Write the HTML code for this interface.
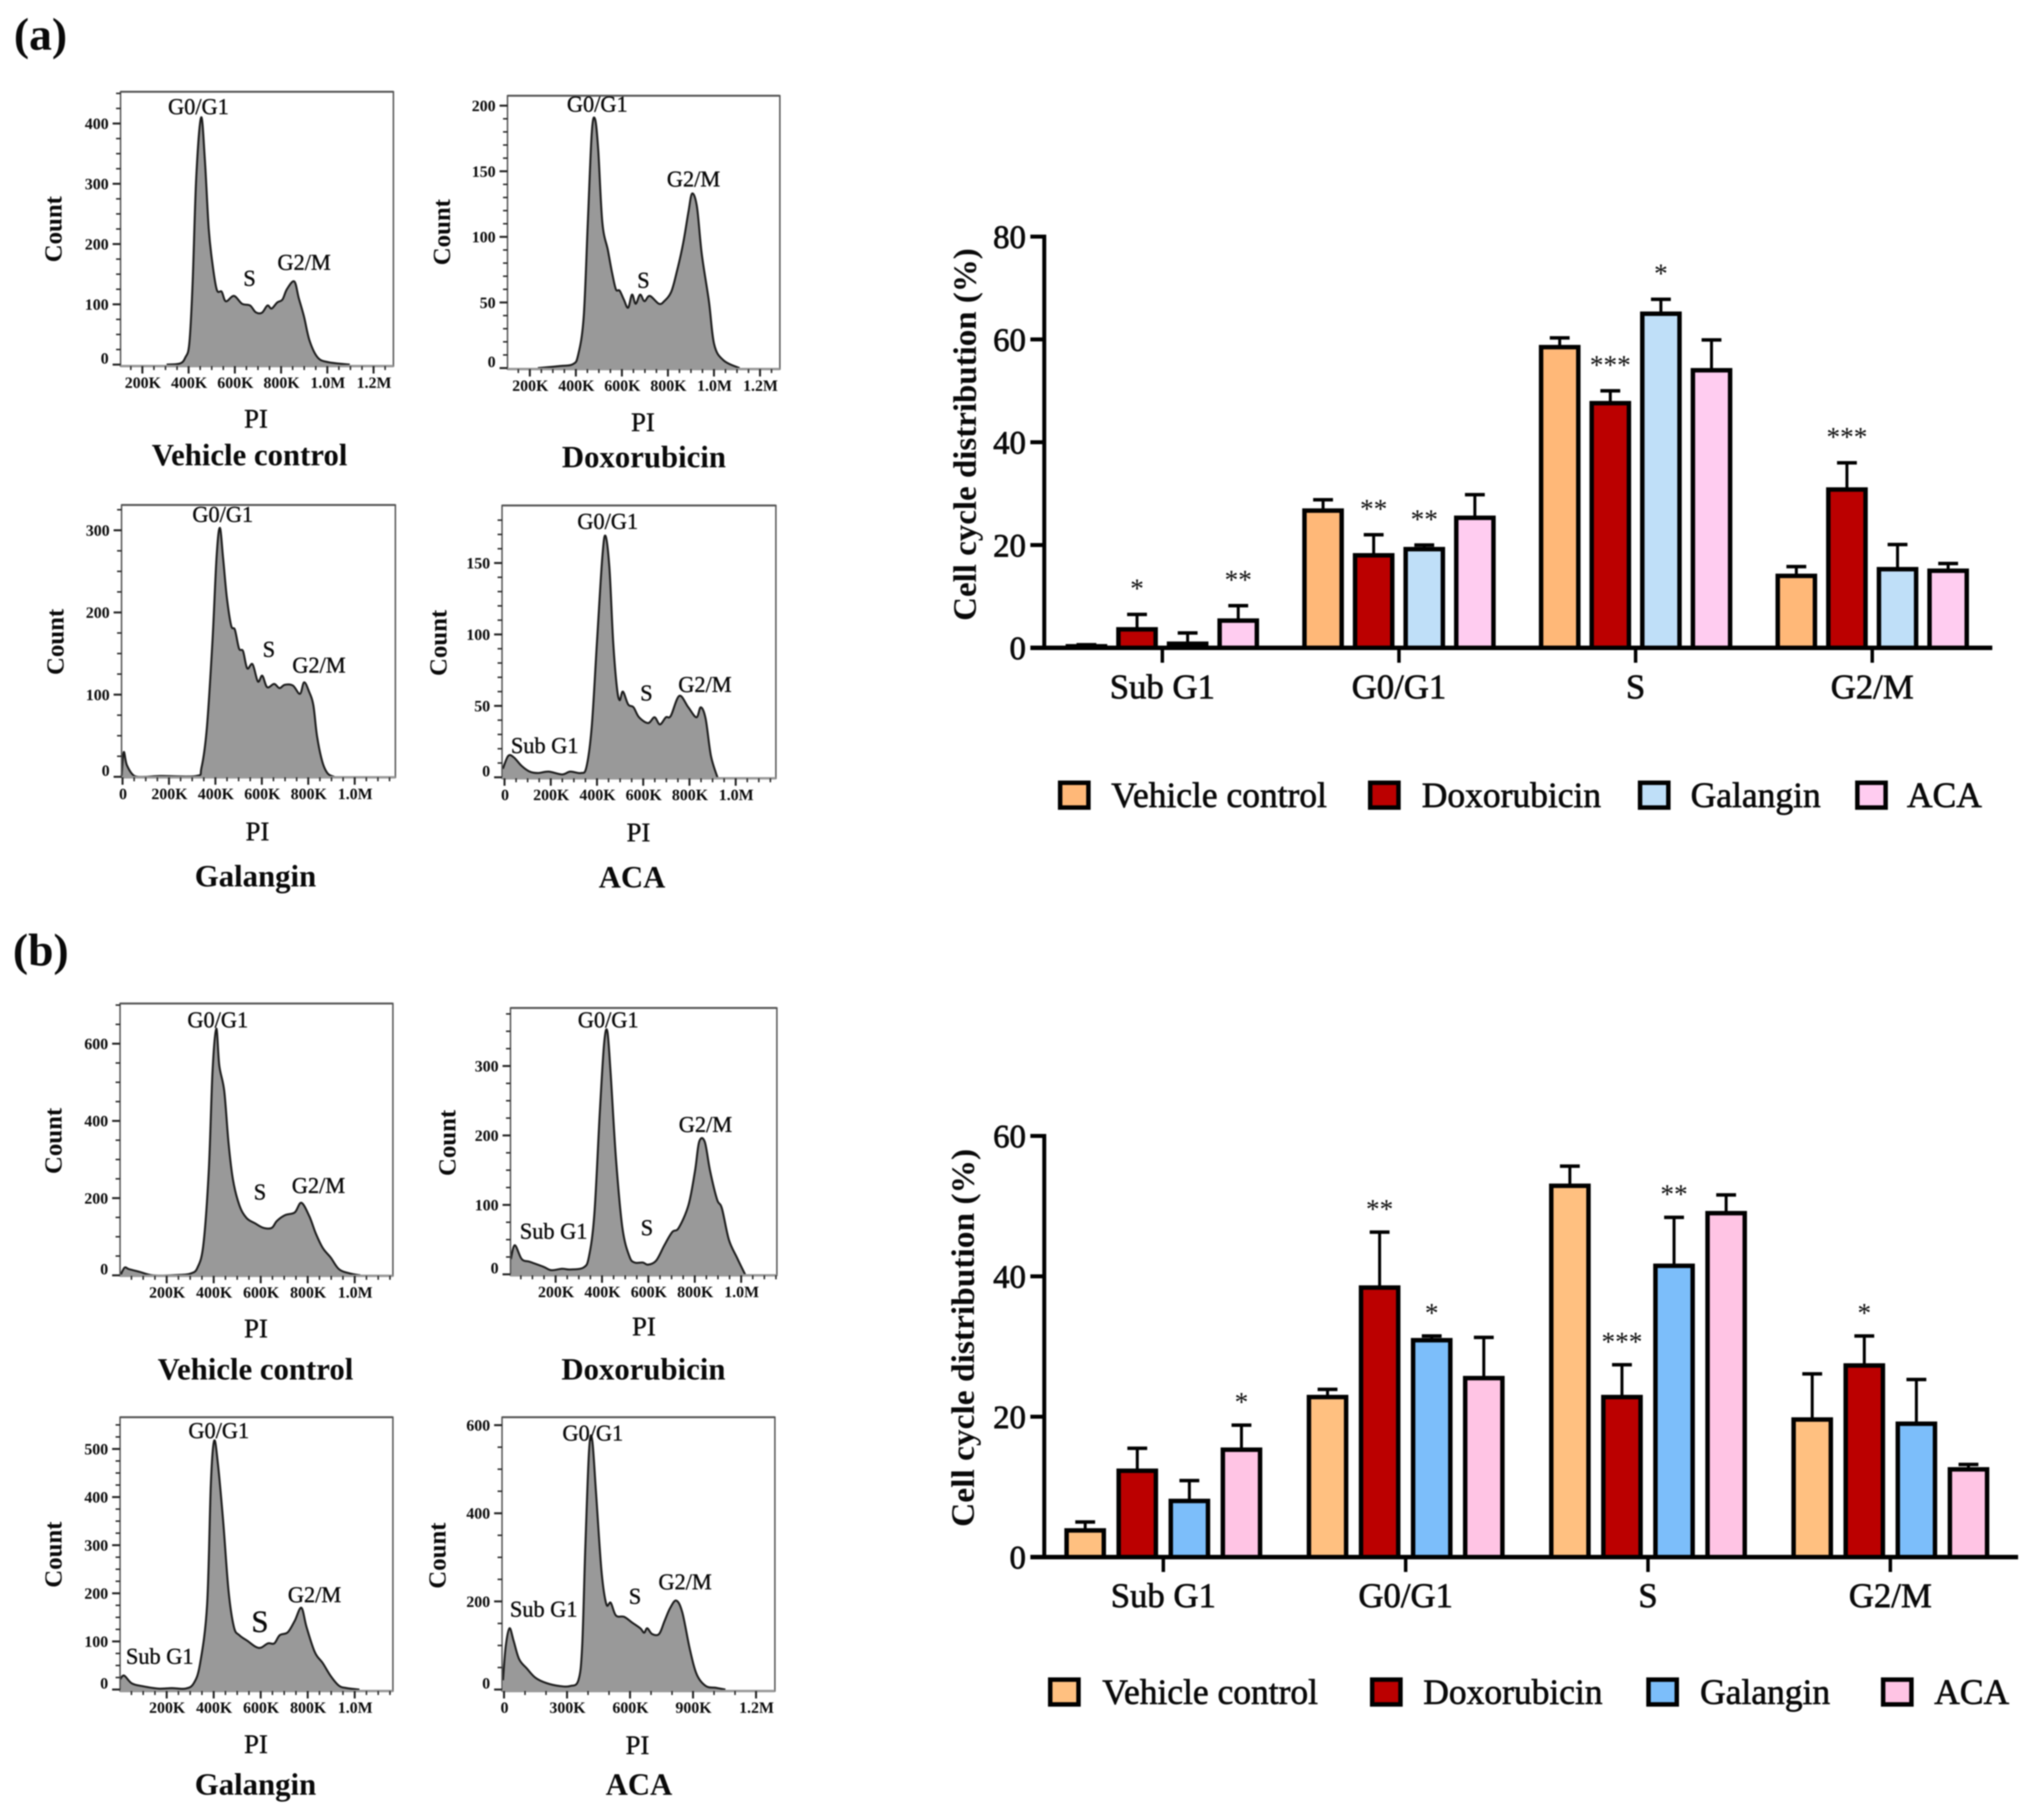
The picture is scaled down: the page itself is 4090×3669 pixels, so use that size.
<!DOCTYPE html>
<html lang="en">
<head>
<meta charset="utf-8">
<title>Cell cycle distribution figure</title>
<style>
html,body{margin:0;padding:0;background:#fff;}
svg{display:block;filter:blur(1.2px);}
text{font-family:"Liberation Serif","DejaVu Serif",serif;fill:#0a0a0a;text-anchor:middle;}
.ann{font-size:45px;stroke:#0a0a0a;stroke-width:.7px;}
.pi{font-size:54px;stroke:#0a0a0a;stroke-width:.7px;}
.title{font-size:62px;font-weight:bold;}
.count{font-size:50px;font-weight:bold;}
.panel{font-size:92px;font-weight:bold;text-anchor:start;}
.ytitle{font-size:66px;font-weight:bold;}
.cat{font-size:70px;stroke:#0a0a0a;stroke-width:1.3px;}
.leg{font-size:71.5px;text-anchor:start;stroke:#0a0a0a;stroke-width:1.3px;}
.swatch{stroke:#000;stroke-width:9;}
</style>
</head>
<body>
<svg id="figure" xmlns="http://www.w3.org/2000/svg" width="4090" height="3669" viewBox="0 0 4090 3669">
<rect x="0" y="0" width="4090" height="3669" fill="#fff"/>
<g id="marks"></g>

<text class="panel" x="28" y="100">(a)</text>
<text class="panel" x="26" y="1946">(b)</text>

<!-- a: vehicle control -->
<text class="ann" x="400" y="230">G0/G1</text>
<text class="ann" x="503" y="576">S</text>
<text class="ann" x="613" y="544">G2/M</text>
<text class="pi" x="516" y="862">PI</text>
<text class="title" x="503" y="938">Vehicle control</text>
<text class="count" transform="translate(124 462) rotate(-90)">Count</text>
<!-- a: doxorubicin -->
<text class="ann" x="1204" y="225">G0/G1</text>
<text class="ann" x="1297" y="580">S</text>
<text class="ann" x="1398" y="376">G2/M</text>
<text class="pi" x="1296" y="869">PI</text>
<text class="title" x="1298" y="942">Doxorubicin</text>
<text class="count" transform="translate(907 468) rotate(-90)">Count</text>
<!-- a: galangin -->
<text class="ann" x="449" y="1052">G0/G1</text>
<text class="ann" x="542" y="1324">S</text>
<text class="ann" x="643" y="1356">G2/M</text>
<text class="pi" x="519" y="1694">PI</text>
<text class="title" x="515" y="1787">Galangin</text>
<text class="count" transform="translate(128 1294) rotate(-90)">Count</text>
<!-- a: ACA -->
<text class="ann" x="1225" y="1066">G0/G1</text>
<text class="ann" x="1303" y="1412">S</text>
<text class="ann" x="1421" y="1395">G2/M</text>
<text class="ann" x="1098" y="1518">Sub G1</text>
<text class="pi" x="1287" y="1696">PI</text>
<text class="title" x="1274" y="1789">ACA</text>
<text class="count" transform="translate(900 1296) rotate(-90)">Count</text>

<!-- b: vehicle control -->
<text class="ann" x="439" y="2071">G0/G1</text>
<text class="ann" x="524" y="2418">S</text>
<text class="ann" x="642" y="2405">G2/M</text>
<text class="pi" x="516" y="2696">PI</text>
<text class="title" x="515" y="2781">Vehicle control</text>
<text class="count" transform="translate(124 2300) rotate(-90)">Count</text>
<!-- b: doxorubicin -->
<text class="ann" x="1226" y="2071">G0/G1</text>
<text class="ann" x="1304" y="2490">S</text>
<text class="ann" x="1422" y="2282">G2/M</text>
<text class="ann" x="1116" y="2497">Sub G1</text>
<text class="pi" x="1298" y="2692">PI</text>
<text class="title" x="1297" y="2781">Doxorubicin</text>
<text class="count" transform="translate(918 2304) rotate(-90)">Count</text>
<!-- b: galangin -->
<text class="ann" x="441" y="2899">G0/G1</text>
<text class="ann" style="font-size:62px" x="524" y="3290">S</text>
<text class="ann" x="634" y="3230">G2/M</text>
<text class="ann" x="322" y="3354">Sub G1</text>
<text class="pi" x="516" y="3534">PI</text>
<text class="title" x="515" y="3618">Galangin</text>
<text class="count" transform="translate(124 3134) rotate(-90)">Count</text>
<!-- b: ACA -->
<text class="ann" x="1195" y="2904">G0/G1</text>
<text class="ann" x="1280" y="3233">S</text>
<text class="ann" x="1381" y="3204">G2/M</text>
<text class="ann" x="1096" y="3259">Sub G1</text>
<text class="pi" x="1285" y="3536">PI</text>
<text class="title" x="1288" y="3618">ACA</text>
<text class="count" transform="translate(898 3136) rotate(-90)">Count</text>

<!-- bar chart titles -->
<text class="ytitle" textLength="751" lengthAdjust="spacingAndGlyphs" transform="translate(1967 876) rotate(-90)">Cell cycle distribution (%)</text>
<text class="ytitle" textLength="762" lengthAdjust="spacingAndGlyphs" transform="translate(1963 2697) rotate(-90)">Cell cycle distribution (%)</text>

<!-- legend a -->
<g>
<rect class="swatch" x="2137" y="1578" width="57" height="50" fill="#FFB878"/>
<text class="leg" x="2240" y="1627">Vehicle control</text>
<rect class="swatch" x="2762" y="1578" width="57" height="50" fill="#BB0000"/>
<text class="leg" x="2866" y="1627">Doxorubicin</text>
<rect class="swatch" x="3306" y="1578" width="57" height="50" fill="#BFDFF8"/>
<text class="leg" x="3408" y="1627">Galangin</text>
<rect class="swatch" x="3744" y="1578" width="57" height="50" fill="#FFCCF0"/>
<text class="leg" x="3844" y="1627">ACA</text>
</g>
<!-- legend b -->
<g>
<rect class="swatch" x="2117" y="3386" width="57" height="50" fill="#FFC080"/>
<text class="leg" x="2222" y="3435">Vehicle control</text>
<rect class="swatch" x="2766" y="3386" width="57" height="50" fill="#BB0000"/>
<text class="leg" x="2869" y="3435">Doxorubicin</text>
<rect class="swatch" x="3323" y="3386" width="57" height="50" fill="#7CBEFA"/>
<text class="leg" x="3427" y="3435">Galangin</text>
<rect class="swatch" x="3796" y="3386" width="57" height="50" fill="#FFC4E4"/>
<text class="leg" x="3899" y="3435">ACA</text>
</g>
</svg>

<script>
// ---------- histogram data (PI in thousands, count) ----------
const aVehiclePI=[305,363,386,403,417,433,454,470,487,503,522,543,561,596,631,666,690,717,741,759,783,806,825,857,876,899,923,958,1004,1097];
const aVehicleCount=[0,2,12,35,132,311,410,342,226,168,124,121,105,114,101,98,87,86,98,93,103,108,125,138,111,80,40,12,4,0];
const aDoxPI=[235,328,387,410,434,452,469,483,497,515,539,557,574,590,609,627,644,660,679,698,721,761,784,814,838,866,889,905,926,947,978,1001,1041,1111];
const aDoxCount=[0,1.5,3,10,39,111,179,190,167,111,90,73,60,59,52,46,56,49,56,51,55,49,51,58,73,95,119,133,123,87,51,18,6,0];
const aGalanginPI=[-5,5,19,51,97,167,317,340,363,387,405,419,433,449,468,484,502,519,537,560,583,602,623,653,676,699,734,764,782,803,822,838,861,884,912];
const aGalanginCount=[0,30,14,1,0,1,1,11,59,163,267,303,267,219,184,179,156,153,132,137,116,123,109,113,108,112,111,101,115,104,87,49,18,4,0];
const aAcaPI=[-7,16,40,74,109,144,191,249,284,330,354,377,400,423,437,454,470,486,498,512,535,558,582,621,649,672,698,719,756,795,830,849,870,893,921];
const aAcaCount=[6,15,14,8,4,3,4,2,4,3,7,35,95,154,169,146,95,63,54,60,51,49,42,38,42,37,42,43,57,49,42,49,41,15,0];
const bVehiclePI=[3,21,40,85,143,246,303,331,356,379,395,411,424,445,463,482,509,539,578,612,647,669,704,745,773,807,834,864,898,933,979,1024];
const bVehicleCount=[0,20,16,9,0,1,5,20,79,270,528,639,543,477,344,248,182,149,134,123,123,141,156,163,188,153,109,71,46,16,5,0];
const bDoxPI=[7,24,54,89,147,181,228,263,321,344,367,390,409,423,437,460,488,518,541,576,599,634,669,703,731,773,801,819,843,866,896,917,947,982,1017];
const bDoxCount=[22,42,22,18,11,6,8,7,10,26,87,230,332,350,291,168,67,26,17,17,14,20,42,61,67,100,149,191,191,149,108,95,50,24,0];
const bGalanginPI=[3,19,51,97,166,223,280,315,342,372,388,402,418,440,463,486,509,544,578,601,631,658,681,715,745,773,795,830,864,898,933,967,1020];
const bGalanginCount=[22,29,13,7,2,3,2,13,54,177,429,517,469,352,206,130,113,101,89,87,96,96,113,119,143,170,130,78,55,28,8,3,0];
const bAcaPI=[-5,8,26,46,72,110,149,200,264,315,354,372,387,405,420,438,464,487,508,533,572,610,649,667,682,705,738,764,790,820,849,885,918,961,1008,1054];
const bAcaCount=[21,98,139,110,69,47,27,15,8,8,21,98,321,544,566,448,270,194,197,168,165,152,139,129,139,126,126,155,184,202,175,91,34,8,4,0];

// ---------- histogram axis labels ----------
const piTicks=[200,400,600,800,1000,1200];
const piTicksZero=[0,200,400,600,800,1000];
const piTicksNoZero=[200,400,600,800,1000];
const piTicksAca=[0,300,600,900,1200];
const aVehicleCountTicks=[0,100,200,300,400];
const aDoxCountTicks=[0,50,100,150,200];
const aGalanginCountTicks=[0,100,200,300];
const aAcaCountTicks=[0,50,100,150];
const bVehicleCountTicks=[0,200,400,600];
const bDoxCountTicks=[0,100,200,300];
const bGalanginCountTicks=[0,100,200,300,400,500];
const bAcaCountTicks=[0,200,400,600];

// ---------- bar chart data ----------
const categories=['Sub G1','G0/G1','S','G2/M'];
const seriesNames=['vehicle','doxorubicin','galangin','aca'];
const barAMeans=[[0.3,3.6,0.8,5.3],[26.7,18,19.2,25.3],[58.5,47.6,65,54],[14,30.8,15.3,15]];
const barAErrors=[[0.3,2.9,2.1,2.9],[2.1,4,0.8,4.5],[1.8,2.4,2.8,5.9],[1.8,5.2,4.8,1.4]];
const barAStars=[['','*','','**'],['','**','**',''],['','***','*',''],['','***','','']];
const barATicks=[0,20,40,60,80];
const barBMeans=[[3.8,12.3,8,15.3],[22.8,38.4,30.9,25.5],[52.9,22.8,41.5,49],[19.6,27.3,19,12.5]];
const barBErrors=[[1.2,3.2,2.9,3.5],[1.1,7.9,0.6,5.8],[2.8,4.6,6.9,2.6],[6.5,4.2,6.3,0.7]];
const barBStars=[['','','','*'],['','**','*',''],['','***','**',''],['','*','','']];
const barBTicks=[0,20,40,60];
const barAColors=['#FFB878','#BB0000','#BFDFF8','#FFCCF0'];
const barBColors=['#FFC080','#BB0000','#7CBEFA','#FFC4E4'];

// ---------- drawing ----------
const NS='http://www.w3.org/2000/svg';
const root=document.getElementById('marks');
function mk(parent,tag,attrs,name,interactable){
  const el=document.createElementNS(NS,tag);
  for(const k in attrs){el.setAttribute(k,attrs[k]);}
  
  
  parent.appendChild(el);
  return el;
}
function linear(d0,p0,d1,p1){const m=(p1-p0)/(d1-d0);return v=>p0+(v-d0)*m;}
function fmtPI(k){return k===0?'0':(k>=1000?(k/1000).toFixed(1)+'M':k+'K');}
function smoothCurve(pts,maxY){
  let d='';
  for(let i=0;i<pts.length-1;i++){
    const p0=pts[Math.max(0,i-1)],p1=pts[i],p2=pts[i+1],p3=pts[Math.min(pts.length-1,i+2)];
    const c1x=p1[0]+(p2[0]-p0[0])/6,c1y=Math.min(maxY,p1[1]+(p2[1]-p0[1])/6);
    const c2x=p2[0]-(p3[0]-p1[0])/6,c2y=Math.min(maxY,p2[1]-(p3[1]-p1[1])/6);
    d+=' C'+c1x.toFixed(1)+' '+c1y.toFixed(1)+' '+c2x.toFixed(1)+' '+c2y.toFixed(1)+' '+p2[0].toFixed(1)+' '+p2[1].toFixed(1);
  }
  return d;
}

function histogram(o){
  const g=mk(root,'g',{},o.id+'-histogram');
  const [bx0,by0,bx1,by1]=o.box;
  const X=linear(o.xm[0],o.xm[1],o.xm[2],o.xm[3]);
  const Y=linear(o.ym[0],o.ym[1],o.ym[2],o.ym[3]);
  const pts=o.pi.map((k,i)=>[Math.max(bx0,X(k)),Y(o.count[i])]);
  const curve=smoothCurve(pts,by1);
  const first=pts[0],last=pts[pts.length-1];
  const area='M'+first[0].toFixed(1)+' '+by1+' L'+first[0].toFixed(1)+' '+first[1].toFixed(1)+curve+' L'+last[0].toFixed(1)+' '+by1+' Z';
  const line='M'+first[0].toFixed(1)+' '+first[1].toFixed(1)+curve;
  mk(g,'path',{d:area,fill:'#999',stroke:'none'},o.id+'-area');
  mk(g,'path',{d:line,fill:'none',stroke:'#1c1c1c','stroke-width':4,'stroke-linejoin':'round'},o.id+'-outline');
  // frame
  mk(g,'rect',{x:bx0,y:by0,width:bx1-bx0,height:by1-by0,fill:'none',stroke:'#555','stroke-width':3},o.id+'-frame');
  mk(g,'line',{x1:bx0,x2:bx1,y1:by0,y2:by0,stroke:'#555','stroke-width':4},o.id+'-frame-top');
  mk(g,'line',{x1:bx0,x2:bx1,y1:by1,y2:by1,stroke:'#999','stroke-width':5},o.id+'-frame-bottom');
  // x ticks
  for(let k=o.xMinorStart;X(k)<=bx1;k+=o.xMinor){
    if(X(k)<bx0) continue;
    const major=o.xTicks.includes(k);
    mk(g,'line',{x1:X(k),x2:X(k),y1:by1,y2:by1+(major?15:8),stroke:'#222','stroke-width':major?4:3},o.id+'-x-tick');
  }
  o.xTicks.forEach(k=>{
    const t=mk(g,'text',{x:X(k)+1,y:by1+44,style:'font-size:32px;font-weight:bold'},o.id+'-x-tick-label');
    t.textContent=fmtPI(k);
  });
  // y ticks
  const top=o.yTicks[o.yTicks.length-1]+o.yMinor*o.yExtra;
  for(let c=0;c<=top;c+=o.yMinor){
    const major=o.yTicks.includes(c);
    if(Y(c)<by0) break;
    mk(g,'line',{x1:bx0-(major?16:9),x2:bx0,y1:Y(c),y2:Y(c),stroke:'#222','stroke-width':major?4:3},o.id+'-y-tick');
  }
  o.yTicks.forEach(c=>{
    const t=mk(g,'text',{x:bx0-24,y:Y(c)+(c===0?-2:11),style:'font-size:32px;font-weight:bold;text-anchor:end'},o.id+'-y-tick-label');
    t.textContent=String(c);
  });
}

histogram({id:'a-vehicle',pi:aVehiclePI,count:aVehicleCount,box:[243,185,793,738],xm:[200,287,1200,753],ym:[0,735,400,249],xTicks:piTicks,xMinor:50,xMinorStart:100,yTicks:aVehicleCountTicks,yMinor:25,yExtra:2});
histogram({id:'a-dox',pi:aDoxPI,count:aDoxCount,box:[1023,193,1572,744],xm:[200,1068,1200,1532],ym:[0,742,200,213],xTicks:piTicks,xMinor:50,xMinorStart:100,yTicks:aDoxCountTicks,yMinor:10,yExtra:1});
histogram({id:'a-galangin',pi:aGalanginPI,count:aGalanginCount,box:[245,1018,797,1567],xm:[0,247,1000,715],ym:[0,1566,300,1069],xTicks:piTicksZero,xMinor:50,xMinorStart:0,yTicks:aGalanginCountTicks,yMinor:25,yExtra:1});
histogram({id:'a-aca',pi:aAcaPI,count:aAcaCount,box:[1012,1019,1564,1569],xm:[0,1017,1000,1483],ym:[0,1567,150,1135],xTicks:piTicksZero,xMinor:50,xMinorStart:0,yTicks:aAcaCountTicks,yMinor:10,yExtra:3});
histogram({id:'b-vehicle',pi:bVehiclePI,count:bVehicleCount,box:[242,2023,792,2572],xm:[200,336,1000,715],ym:[0,2571,600,2104],xTicks:piTicksNoZero,xMinor:50,xMinorStart:50,yTicks:bVehicleCountTicks,yMinor:50,yExtra:2});
histogram({id:'b-dox',pi:bDoxPI,count:bDoxCount,box:[1029,2032,1566,2571],xm:[200,1120,1000,1494],ym:[0,2569,300,2149],xTicks:piTicksNoZero,xMinor:50,xMinorStart:50,yTicks:bDoxCountTicks,yMinor:25,yExtra:3});
histogram({id:'b-galangin',pi:bGalanginPI,count:bGalanginCount,box:[242,2857,792,3409],xm:[200,336,1000,715],ym:[0,3406,500,2921],xTicks:piTicksNoZero,xMinor:50,xMinorStart:50,yTicks:bGalanginCountTicks,yMinor:25,yExtra:2});
histogram({id:'b-aca',pi:bAcaPI,count:bAcaCount,box:[1012,2857,1562,3409],xm:[0,1016,1200,1524],ym:[0,3406,600,2873],xTicks:piTicksAca,xMinor:100,xMinorStart:0,yTicks:bAcaCountTicks,yMinor:50,yExtra:0});

function barChart(o){
  const g=mk(root,'g',{},o.id+'-chart');
  const Y=linear(o.ym[0],o.ym[1],o.ym[2],o.ym[3]);
  const xCat=i=>o.groupX+i*o.groupStep;
  const maxTick=o.ticks[o.ticks.length-1];
  o.means.forEach((grp,i)=>{
    grp.forEach((v,j)=>{
      const cx=xCat(i)+(j-1.5)*o.pitch;
      const errTop=Y(v+o.errors[i][j]);
      const sername=seriesNames[j];
      mk(g,'line',{x1:cx,x2:cx,y1:Y(v),y2:errTop,stroke:'#000','stroke-width':6},o.id+'-error-'+sername);
      mk(g,'line',{x1:cx-20,x2:cx+20,y1:errTop,y2:errTop,stroke:'#000','stroke-width':7},o.id+'-error-cap-'+sername);
      const by=Y(v);
      mk(g,'rect',{x:cx-37.5,y:by,width:75,height:Math.max(0,o.ym[1]-by),fill:o.colors[j],stroke:'#000','stroke-width':9},o.id+'-bar-'+sername);
      const star=o.stars[i][j];
      if(star){
        const t=mk(g,'text',{x:cx,y:Y(v+o.errors[i][j]+o.starGap)+o.starShift,style:'font-size:55px'},o.id+'-significance-'+sername);
        t.textContent=star;
      }
    });
    mk(g,'line',{x1:xCat(i),x2:xCat(i),y1:o.ym[1],y2:o.ym[1]+30,stroke:'#000','stroke-width':7},o.id+'-x-tick');
    const t=mk(g,'text',{x:xCat(i),y:o.catY,class:'cat'},o.id+'-category-label');
    t.textContent=categories[i];
  });
  mk(g,'line',{x1:o.axisX,x2:o.axisX,y1:Y(maxTick)-4,y2:o.ym[1],stroke:'#000','stroke-width':8},o.id+'-y-axis');
  mk(g,'line',{x1:o.axisX-28,x2:o.axisEnd,y1:o.ym[1],y2:o.ym[1],stroke:'#000','stroke-width':9},o.id+'-x-axis');
  o.ticks.forEach(v=>{
    mk(g,'line',{x1:o.axisX-28,x2:o.axisX,y1:Y(v),y2:Y(v),stroke:'#000','stroke-width':8},o.id+'-y-tick');
    const t=mk(g,'text',{x:o.axisX-37,y:Y(v)+23,style:'font-size:66px;text-anchor:end;stroke:#0a0a0a;stroke-width:1.5px'},o.id+'-y-tick-label');
    t.textContent=String(v);
  });
}

barChart({id:'bar-a',means:barAMeans,errors:barAErrors,stars:barAStars,ticks:barATicks,colors:barAColors,ym:[0,1306,80,477],groupX:2343,groupStep:477,pitch:102,axisX:2105,axisEnd:4016,catY:1408,starGap:5.5,starShift:23});
barChart({id:'bar-b',means:barBMeans,errors:barBErrors,stars:barBStars,ticks:barBTicks,colors:barBColors,ym:[0,3139,60,2290],groupX:2345,groupStep:488.5,pitch:105,axisX:2105,axisEnd:4068,catY:3240,starGap:3.5,starShift:21});
</script>
</body>
</html>
